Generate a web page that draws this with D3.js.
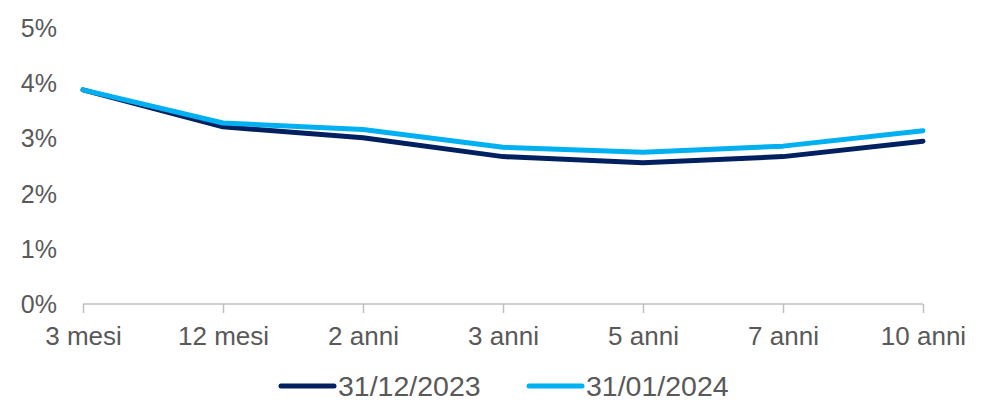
<!DOCTYPE html>
<html>
<head>
<meta charset="utf-8">
<script src="https://cdn.jsdelivr.net/npm/d3@7"></script>
<style>
  body { margin: 0; background: #fff; }
  text { font-family: "Liberation Sans", Arial, sans-serif; fill: #595959; }
</style>
</head>
<body>
<script>
// categories (maturities) and the two curves, in percent
var categories = ['3 mesi', '12 mesi', '2 anni', '3 anni', '5 anni', '7 anni', '10 anni'];
var dec2023 = [3.88, 3.21, 3.01, 2.67, 2.56, 2.67, 2.95];
var jan2024 = [3.88, 3.28, 3.16, 2.84, 2.75, 2.86, 3.14];
var seriesNames = ['31/12/2023', '31/01/2024'];
var seriesColors = ['#002060', '#00b0f0'];
var yTicks = [0, 1, 2, 3, 4, 5];

var width = 986,
    height = 403;

var svg = d3.select('body').append('svg')
  .attr('width', width)
  .attr('height', height);

// x: one point per maturity, y: 0..5%
var x = d3.scalePoint().domain(categories).range([83, 923]);
var y = d3.scaleLinear().domain([0, 5]).range([304, 28]);

// y labels (no axis line, no gridlines)
svg.append('g')
  .selectAll('text')
  .data(yTicks)
  .enter().append('text')
  .attr('x', 57)
  .attr('y', function(d) { return y(d); })
  .attr('dy', '0.36em')
  .attr('text-anchor', 'end')
  .style('font-size', '25px')
  .text(function(d) { return d + '%'; });

// x axis with ticks hanging below the line
var xAxis = svg.append('g')
  .attr('transform', 'translate(0,' + y(0) + ')')
  .call(d3.axisBottom(x).tickSize(9).tickPadding(14));
xAxis.select('.domain').attr('d', 'M' + x(categories[0]) + ',0H' + x(categories[categories.length - 1]))
  .attr('stroke', '#bfbfbf').attr('stroke-width', 1.5);
xAxis.selectAll('.tick line').attr('stroke', '#bfbfbf').attr('stroke-width', 1.5);
xAxis.selectAll('.tick text')
  .style('font-size', '26px')
  .style('font-family', '"Liberation Sans", Arial, sans-serif')
  .attr('fill', '#595959');

// the two curves
var line = d3.line()
  .x(function(d, i) { return x(categories[i]); })
  .y(function(d) { return y(d); });

[dec2023, jan2024].forEach(function(values, i) {
  svg.append('path')
    .datum(values)
    .attr('d', line)
    .attr('fill', 'none')
    .attr('stroke', seriesColors[i])
    .attr('stroke-width', 5)
    .attr('stroke-linecap', 'round')
    .attr('stroke-linejoin', 'round');
});

// legend at the bottom
var legendX = [281, 529];
var legend = svg.append('g').selectAll('g')
  .data(seriesNames)
  .enter().append('g')
  .attr('transform', function(d, i) { return 'translate(' + legendX[i] + ',386)'; });

legend.append('line')
  .attr('x1', 0).attr('x2', 53)
  .attr('stroke', function(d, i) { return seriesColors[i]; })
  .attr('stroke-width', 5)
  .attr('stroke-linecap', 'round');

legend.append('text')
  .attr('x', 57)
  .attr('dy', '0.36em')
  .style('font-size', '28.5px')
  .text(function(d) { return d; });
</script>
</body>
</html>
